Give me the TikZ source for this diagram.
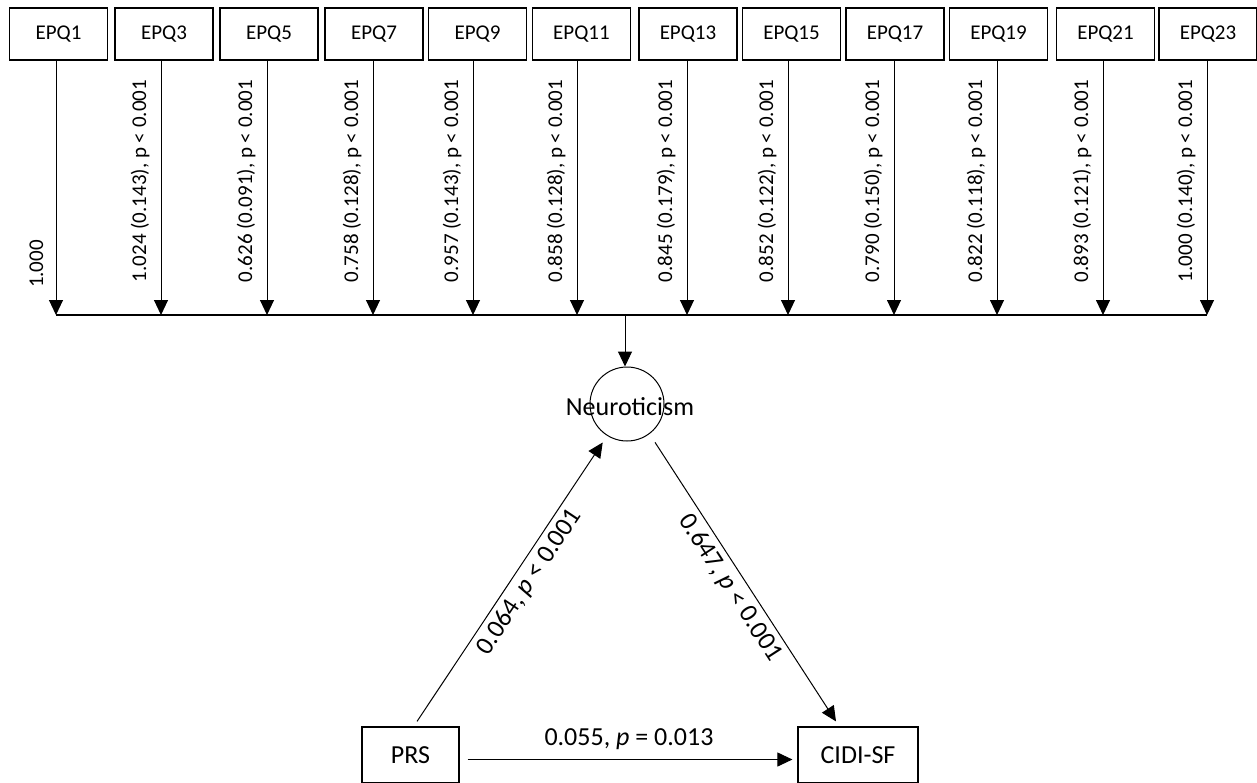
\documentclass[tikz,border=0pt]{standalone}
\usepackage{fontspec}
\setmainfont{Carlito}
\usetikzlibrary{arrows.meta}
\begin{document}
\begin{tikzpicture}[x=1pt,y=-1pt,
  itembox/.style={draw, line width=1.4pt, minimum width=98pt, minimum height=52pt,
    inner sep=0pt, font=\fontsize{21}{25}\selectfont},
  varbox/.style={draw, line width=1.2pt, minimum height=56pt, inner sep=0pt,
    font=\fontsize{26}{30}\selectfont},
  arr/.style={line width=1pt, -{Triangle[length=15pt,width=14pt]}},
  loadlab/.style={rotate=90, anchor=base, inner sep=0pt, font=\fontsize{21}{25}\selectfont},
  pathlab/.style={inner sep=0pt, font=\fontsize{26}{30}\selectfont}]
\useasboundingbox (0,0) rectangle (1257,782);
\clip (0,0) rectangle (1257,782);

% indicator boxes, their loadings and arrows down to the common bar
\foreach \n/\c/\a/\v in {
  1/58.5/56/{},
  3/164/161/{1.024 (0.143), p < 0.001},
  5/269/267/{0.626 (0.091), p < 0.001},
  7/374/373/{0.758 (0.128), p < 0.001},
  9/477.5/473/{0.957 (0.143), p < 0.001},
  11/581.5/577/{0.858 (0.128), p < 0.001},
  13/688/687/{0.845 (0.179), p < 0.001},
  15/791.5/788/{0.852 (0.122), p < 0.001},
  17/895/894/{0.790 (0.150), p < 0.001},
  19/998.5/997/{0.822 (0.118), p < 0.001},
  21/1105.5/1103/{0.893 (0.121), p < 0.001},
  23/1208/1207/{1.000 (0.140), p < 0.001}}{
  \node[itembox] (e\n) at (\c,34) {EPQ\n};
  \coordinate (t\n) at (\a,315);
  \draw[arr] (e\n.south -| t\n) -- (t\n);
  \node[loadlab] (l\n) at (\a-15,181) {\v};
}
\node[loadlab] (l1b) at (43,264) {1.000};

% common bar
\draw[line width=1.2pt] (t1) -- (t23);
\coordinate (tap) at (625,315);

% latent factor
\node[circle, draw, line width=1pt, minimum size=74pt, inner sep=0pt,
  label={[pathlab, xshift=3pt, yshift=-3pt]center:Neuroticism}] (neuro) at (627,404) {};
\draw[arr] (tap) -- (tap |- neuro.north);

% observed variables
\node[varbox, minimum width=97pt] (prs) at (410.5,755) {PRS};
\node[varbox, minimum width=120pt] (cidi) at (858,755) {CIDI-SF};

% structural paths
\draw[arr] ([xshift=8pt,yshift=-4.5pt]prs.east) -- ([xshift=-5pt,yshift=-4.5pt]cidi.west);
\node[pathlab, anchor=base] (dlab) at (629,745) {0.055, \textit{p} = 0.013};

\draw[arr, shorten >=8pt] ([xshift=6.5pt,yshift=5pt]prs.north) --
  node[pathlab, sloped, pos=0.52, below=5pt] {0.064, \textit{p} < 0.001} (neuro.238);
\draw[arr, shorten <=10pt] (neuro.-53.6) --
  node[pathlab, sloped, pos=0.505, below=5pt] {0.647, \textit{p} < 0.001}
  ([xshift=-22pt,yshift=5pt]cidi.north);
\end{tikzpicture}
\end{document}
